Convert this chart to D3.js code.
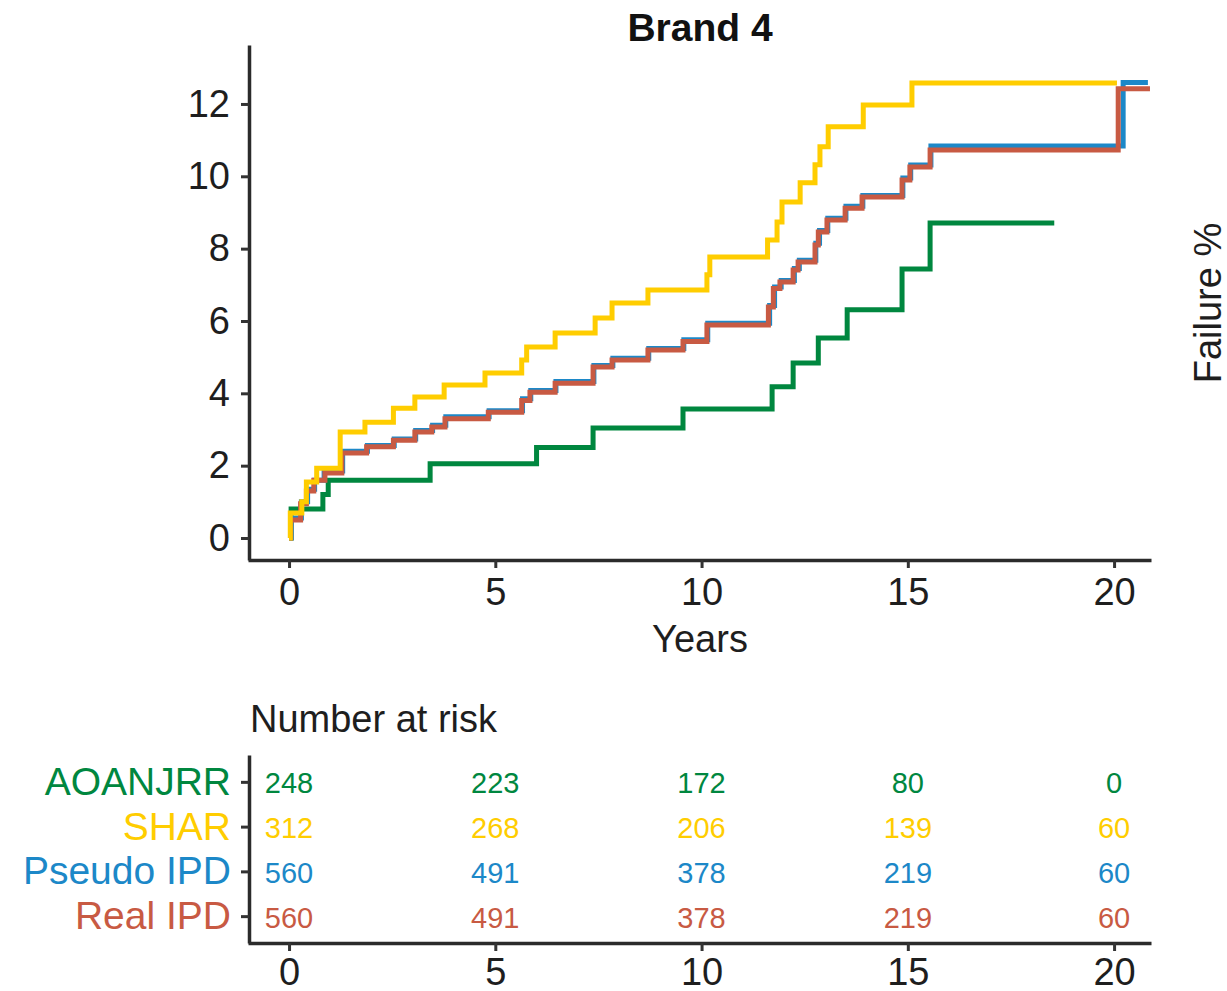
<!DOCTYPE html>
<html>
	<head>
		<style>
			body {
				margin: 0;
				background: #fff;
			}

			#chart {
				display: block;
				font-family: 'Liberation Sans', Arial, sans-serif;
			}
		</style>
	</head>
	<body>
		<svg id="chart" width="1227" height="991"></svg>
		<script src="https://cdnjs.cloudflare.com/ajax/libs/d3/7.8.5/d3.min.js"></script>

		<script>
			// step curves, [years, failure %]; last pair marks where the line stops
			let aoanjrr = [
				[0, 0], [0.05, 0.8], [0.82, 1.2], [0.95, 1.6], [3.42, 2.05],
				[6.0, 2.5], [7.37, 3.04], [9.55, 3.57], [11.71, 4.18],
				[12.22, 4.84], [12.83, 5.53], [13.53, 6.31], [14.86, 7.44],
				[15.54, 8.71], [18.55, 8.71],
			];
			let shar = [
				[0, 0], [0.03, 0.69], [0.31, 1.0], [0.42, 1.55], [0.67, 1.93],
				[1.24, 2.93], [1.84, 3.2], [2.53, 3.59], [3.05, 3.9],
				[3.76, 4.23], [4.75, 4.56], [5.64, 4.92], [5.76, 5.28],
				[6.45, 5.67], [7.42, 6.08], [7.83, 6.5], [8.7, 6.86],
				[10.13, 7.28], [10.2, 7.77], [11.6, 8.24], [11.83, 8.74],
				[11.95, 9.29], [12.39, 9.82], [12.75, 10.32], [12.87, 10.82],
				[13.07, 11.37], [13.92, 11.97], [15.1, 12.58], [20.07, 12.58],
			];
			let pseudoIpd = [
				[0, 0], [0.05, 0.55], [0.3, 1.0], [0.45, 1.35], [0.62, 1.6],
				[0.85, 1.85], [1.3, 2.4], [1.9, 2.56], [2.55, 2.74],
				[3.07, 2.97], [3.48, 3.12], [3.8, 3.35], [4.85, 3.52],
				[5.66, 3.85], [5.86, 4.08], [6.47, 4.33], [7.39, 4.77],
				[7.85, 4.97], [8.72, 5.24], [9.57, 5.48], [10.15, 5.94],
				[11.65, 6.43], [11.77, 6.94], [11.93, 7.12], [12.25, 7.45],
				[12.37, 7.68], [12.77, 8.15], [12.86, 8.5], [13.06, 8.84],
				[13.5, 9.17], [13.91, 9.47], [14.88, 9.95], [15.07, 10.31],
				[15.56, 10.84], [20.22, 12.59], [20.82, 12.59],
			];
			let realIpd = [
				[0, 0], [0.04, 0.5], [0.28, 0.95], [0.42, 1.3], [0.6, 1.6],
				[0.87, 1.8], [1.28, 2.35], [1.88, 2.52], [2.53, 2.7],
				[3.05, 2.93], [3.46, 3.07], [3.78, 3.3], [4.83, 3.48],
				[5.64, 3.8], [5.84, 4.03], [6.45, 4.28], [7.37, 4.73],
				[7.83, 4.92], [8.7, 5.2], [9.55, 5.43], [10.13, 5.89],
				[11.62, 6.39], [11.74, 6.9], [11.9, 7.08], [12.22, 7.41],
				[12.34, 7.63], [12.75, 8.1], [12.83, 8.46], [13.04, 8.79],
				[13.48, 9.12], [13.89, 9.43], [14.86, 9.9], [15.05, 10.26],
				[15.54, 10.73], [20.1, 12.42], [20.87, 12.42],
			];

			let groups = ['AOANJRR', 'SHAR', 'Pseudo IPD', 'Real IPD'];
			let colors = ['#00873f', '#ffcd00', '#1c88c8', '#c85a43'];

			let yearTicks = [0, 5, 10, 15, 20];
			let failTicks = [0, 2, 4, 6, 8, 10, 12];

			// number at risk per group at yearTicks
			let riskAoanjrr = [248, 223, 172, 80, 0];
			let riskShar = [312, 268, 206, 139, 60];
			let riskPseudo = [560, 491, 378, 219, 60];
			let riskReal = [560, 491, 378, 219, 60];

			let curves = [aoanjrr, shar, pseudoIpd, realIpd];
			let risks = [riskAoanjrr, riskShar, riskPseudo, riskReal];
			// ggplot draws the groups in alphabetical order
			let drawOrder = [0, 2, 3, 1];

			let svg = d3.select('#chart');

			let x = d3.scaleLinear().domain([-0.995, 20.895]).range([248, 1151]);
			let y = d3.scaleLinear().domain([-0.608, 13.63]).range([560, 45]);

			let line = d3
				.line()
				.curve(d3.curveStepAfter)
				.x(d => x(d[0]))
				.y(d => y(d[1]));

			svg.append('g')
				.selectAll('path')
				.data(drawOrder)
				.enter()
				.append('path')
				.attr('d', i => line(curves[i]))
				.attr('fill', 'none')
				.attr('stroke', i => colors[i])
				.attr('stroke-width', 5);

			function styleAxis(g, size) {
				g.select('.domain').attr('stroke', '#2b2b2b').attr('stroke-width', 3.5);
				g.selectAll('.tick line').attr('stroke', '#333').attr('stroke-width', 3);
				g.selectAll('.tick text')
					.attr('fill', '#1e1e1e')
					.style('font-size', size + 'px')
					.style('font-family', "'Liberation Sans', Arial, sans-serif");
			}

			svg.append('g')
				.attr('transform', 'translate(249,0)')
				.call(d3.axisLeft(y).tickValues(failTicks).tickSize(8).tickSizeOuter(0).tickPadding(11))
				.call(g => styleAxis(g, 38));

			svg.append('g')
				.attr('transform', 'translate(0,560)')
				.call(d3.axisBottom(x).tickValues(yearTicks).tickSize(8).tickSizeOuter(0).tickPadding(10))
				.call(g => styleAxis(g, 38));

			svg.append('text')
				.attr('x', 700)
				.attr('y', 41)
				.attr('text-anchor', 'middle')
				.attr('font-weight', 'bold')
				.attr('font-size', 39)
				.attr('fill', '#111')
				.text('Brand 4');

			svg.append('text')
				.attr('x', 700)
				.attr('y', 652)
				.attr('text-anchor', 'middle')
				.attr('font-size', 38)
				.attr('fill', '#1e1e1e')
				.text('Years');

			svg.append('text')
				.attr('transform', 'translate(1221,303) rotate(-90)')
				.attr('text-anchor', 'middle')
				.attr('font-size', 38)
				.attr('fill', '#1e1e1e')
				.text('Failure %');

			// risk table
			svg.append('text')
				.attr('x', 250)
				.attr('y', 732)
				.attr('font-size', 38)
				.attr('fill', '#1e1e1e')
				.text('Number at risk');

			let row = d3.scalePoint().domain(groups).range([755, 943]).padding(0.6);

			let rowAxis = svg.append('g')
				.attr('transform', 'translate(249,0)')
				.call(d3.axisLeft(row).tickSize(8).tickSizeOuter(0).tickPadding(10))
				.call(g => styleAxis(g, 39));
			rowAxis.selectAll('.tick text').attr('fill', (d, i) => colors[i]);

			svg.append('g')
				.attr('transform', 'translate(0,943)')
				.call(d3.axisBottom(x).tickValues(yearTicks).tickSize(8).tickSizeOuter(0).tickPadding(7))
				.call(g => styleAxis(g, 38));

			groups.forEach((name, i) => {
				svg.append('g')
					.selectAll('text')
					.data(risks[i])
					.enter()
					.append('text')
					.attr('x', (d, j) => x(yearTicks[j]))
					.attr('y', row(name))
					.attr('dy', '0.4em')
					.attr('text-anchor', 'middle')
					.attr('font-size', 29)
					.attr('fill', colors[i])
					.text(d => d);
			});
		</script>
	</body>
</html>
